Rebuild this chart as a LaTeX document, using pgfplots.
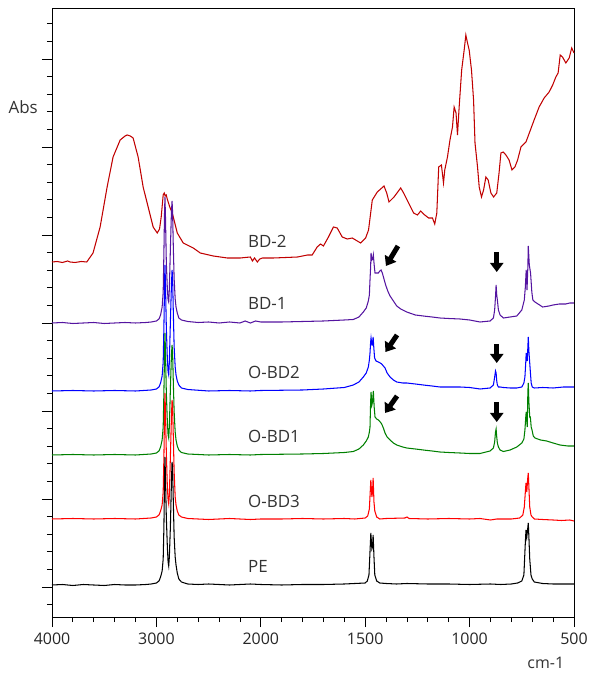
\documentclass[border=0pt]{standalone}
\usepackage{pgfplots}
\pgfplotsset{compat=1.18}
\usepackage{fontspec}
\setmainfont{Open Sans}
\usetikzlibrary{arrows.meta}
\definecolor{bdtwo}{RGB}{192,0,0}
\definecolor{bdone}{RGB}{84,20,160}
\definecolor{obdtwo}{RGB}{0,0,255}
\definecolor{obdone}{RGB}{0,128,0}
\definecolor{obdthree}{RGB}{255,0,0}
% wavenumber -> position (4000-2000 and 2000-500 drawn at different scales)
\def\wn{(\thisrowno{0}>1999.9?(4000-\thisrowno{0})/1000:2+(2000-\thisrowno{0})/500)}
\begin{document}
\begin{tikzpicture}
\begin{axis}[
  at={(0,0)}, anchor=south west,
  scale only axis, width=522bp, height=609bp,
  xmin=0, xmax=5, ymin=0, ymax=609,
  clip=false,
  axis line style={black, line width=0.8bp},
  xtick={0,1,2,3,4,5},
  xticklabels={4000,3000,2000,1500,1000,500},
  minor x tick num=4,
  ytick={30,118,206,294,382,470,558},
  yticklabels={},
  minor ytick={12.4,47.6,65.2,82.8,100.4,135.6,153.2,170.8,188.4,223.6,241.2,258.8,276.4,311.6,329.2,346.8,364.4,399.6,417.2,434.8,452.4,487.6,505.2,522.8,540.4,575.6,593.2},
  xtick pos=bottom, ytick pos=left,
  tick align=outside,
  major tick length=10bp, minor tick length=5bp,
  tick style={black, line width=0.8bp},
  xticklabel style={font=\fontsize{16}{19}\selectfont, text=black!85, yshift=-2bp},
  every axis plot/.append style={line width=1.05bp, mark=none},
]
% BD-2
\addplot[bdtwo] table[x expr=\wn, y index=1] {
4000 355
3950 355.5
3900 354.5
3850 356
3827 355
3780 354.5
3720 355.5
3667 355
3607 364
3539 390
3472 430
3415 460
3347 477
3300 481
3280 482
3250 481
3223 479
3175 460
3127 430
3079 410
3031 390
2992 384
2970 388
2954 400
2935 422
2925 424
2916 421
2906 422
2896 418
2872 410
2848 404
2800 384
2743 374
2647 369
2580 364
2455 361
2320 359
2196 359
2150 359.5
2100 360
2080 356
2060 359
2033 355
2010 358
1992 359
1940 359
1880 359.5
1824 360
1776 362
1754 362
1730 370
1714 373
1700 371
1676 380
1652 390
1634 389
1610 380
1586 378
1562 379
1538 376
1522 374
1498 379
1484 387
1466 417
1442 425
1410 431
1397 424
1386 415
1362 420
1330 429
1316 424
1292 414
1268 404
1250 402
1234 406
1215 402
1196 399
1178 399
1167 393
1157 404
1148 450
1135 452
1125 434
1119 447
1106 460
1094 477
1082 490
1074 510
1065 504
1058 482
1050 510
1038 547
1026 567
1018 582
1010 574
1002 567
991 547
981 517
974 474
962 450
954 430
943 420
933 427
922 440
911 437
898 424
885 420
870 424
859 444
850 464
839 465
826 462
811 457
797 447
783 450
770 457
754 470
730 475
714 484
691 497
667 510
643 519
619 525
602 532
587 540
576 544
566 562
555 560
539 554
523 559
511 569
502 565
500 564
};
% BD-1
\addplot[bdone] table[x expr=\wn, y index=1] {
4000 294
3900 294.5
3800 293.5
3700 294
3600 294.5
3500 293.5
3400 294
3300 294.5
3200 294
3100 294.5
3050 295
3000 296
2975 298
2960 302
2945 310
2935 325
2928 365
2922 405
2918 420
2913 400
2905 355
2895 328
2888 317
2882 315
2876 328
2866 368
2856 405
2850 416
2845 405
2838 370
2830 338
2820 318
2812 310
2800 304
2785 299
2760 297
2700 295.5
2600 294.5
2500 295
2400 294
2300 295
2200 294
2150 296
2100 294
2050 296
2000 295
1900 295
1800 295.5
1700 296
1600 297
1557 297.5
1530 300
1509 305
1495 309
1485 316
1480 322
1477 337
1474 350
1472 364
1468 357
1464 358
1461 362
1457 352
1453 344
1445 344
1437 344
1430 346
1424 347
1418 344
1410 338
1402 332
1392 326
1381 321
1365 316
1349 311
1330 308
1301 305
1260 302
1222 301
1180 300
1142 299
1100 298.5
1046 298
1000 297
950 295
902 296
886 299
880 307
876 320
873 332
870 322
867 317
862 307
854 302
838 299
806 300
774 301
750 307
738 317
733 330
729 347
725 327
721 350
719 371
714 352
708 344
702 325
697 317
687 315
650 310
620 311
600 312
570 313
540 313
520 314
500 314
};
% O-BD2
\addplot[obdtwo] table[x expr=\wn, y index=1] {
4000 226
3800 226.5
3600 226
3400 226.5
3200 226
3050 227
3000 228
2975 230
2960 234
2945 241
2935 255
2928 290
2922 333
2918 352
2913 333
2905 290
2895 258
2888 245
2882 242
2876 255
2866 295
2856 332
2850 347
2845 340
2838 305
2830 270
2820 250
2812 242
2800 236
2785 232
2760 229
2700 227.5
2500 226
2300 226.5
2100 226
2000 226.5
1800 227
1700 228
1600 229.5
1557 232
1530 235
1509 240
1495 244
1485 250
1480 257
1477 264
1474 275
1472 279
1468 272
1466 272
1462 280
1459 270
1455 259
1448 256
1437 255
1428 254
1421 253
1413 251
1405 249
1395 244
1381 240
1365 237
1349 235
1320 234
1301 234
1260 233
1222 232
1180 231
1142 230
1100 230
1046 230
1000 229.5
950 228
902 229
886 232
880 240
876 246
873 244
870 236
867 232
862 230
854 230
838 229.5
806 229
774 229
750 230
740 234
735 240
731 255
729 264
724 256
721 270
719 280
716 266
713 257
709 245
705 234
700 230
690 229
650 229.5
600 229
550 230
500 230
};
% O-BD1
\addplot[obdone] table[x expr=\wn, y index=1] {
4000 162
3800 162.5
3600 162
3400 162.5
3200 162
3050 163
3000 164
2975 166
2960 170
2945 177
2935 190
2928 225
2922 265
2918 284
2913 265
2905 225
2895 195
2888 182
2882 179
2876 190
2866 228
2856 262
2850 272
2845 265
2838 235
2830 205
2820 185
2812 177
2800 171
2785 167
2760 164.5
2700 163
2500 162
2300 162.5
2100 162
2000 162.5
1800 163
1700 163.5
1600 164.5
1557 165.5
1530 168
1509 172
1495 176
1485 180
1480 185
1477 190
1474 215
1472 225
1468 212
1465 215
1461 226
1457 210
1453 200
1445 198
1437 197
1428 195
1421 193
1413 189
1405 184
1395 180
1381 177
1365 174
1349 172
1320 170
1301 169
1260 168
1222 167
1180 166
1142 165
1100 164.5
1046 164
1000 163.5
950 163.5
902 166
886 169
880 175
876 185
873 188
870 180
867 174
862 170
854 167
838 165.5
806 167
774 170
750 174
740 178
735 187
731 200
729 205
724 190
721 225
719 234
716 215
712 200
709 200
705 190
701 187
695 181
687 179
660 177
631 176
600 174
567 172
530 171
500 171
};
% O-BD3
\addplot[obdthree] table[x expr=\wn, y index=1] {
4000 98
3800 98.5
3600 98
3400 98.5
3200 98
3050 99
3000 100
2975 102
2960 106
2945 112
2935 125
2928 160
2922 205
2918 224
2913 205
2905 165
2895 130
2888 117
2882 113
2876 122
2866 160
2856 200
2850 217
2845 212
2838 180
2830 145
2820 120
2812 112
2800 106
2785 102
2760 100
2700 98.5
2500 97.5
2300 98.5
2200 98
2100 97.5
2000 98
1900 98
1800 98.5
1700 98
1600 98.5
1550 98
1500 99
1488 101
1480 108
1476 125
1473 137
1468 120
1465 125
1462 139
1458 115
1454 106
1445 100
1430 98
1400 98.5
1310 99
1300 100
1290 98.5
1200 98
1100 98.5
1000 98
950 98.5
900 97
870 98
800 98
760 99
745 102
738 110
733 125
730 134
726 125
722 138
719 144
716 130
712 110
706 102
700 100
690 98
650 97.5
600 97
560 96.5
520 97
500 96
};
% PE
\addplot[black] table[x expr=\wn, y index=1] {
4000 32
3900 32.5
3800 31.5
3700 32.5
3600 32
3500 31.5
3400 32.5
3300 32
3200 32
3100 32.5
3050 33
3000 34
2975 36
2960 40
2945 46
2935 58
2928 90
2922 140
2918 160
2913 140
2905 100
2895 70
2888 55
2882 51
2876 60
2866 90
2856 135
2850 155
2845 150
2838 115
2830 80
2820 60
2812 52
2800 44
2785 38
2760 35
2700 33
2600 32.5
2500 33
2400 32.5
2300 32
2200 32.5
2100 33
2000 32.5
1900 32
1800 32.5
1700 32.5
1600 33
1550 33.5
1500 34
1490 36
1482 42
1476 70
1473 84
1468 68
1465 70
1462 82
1458 60
1454 42
1445 36
1430 34
1400 33.5
1350 33
1300 33.5
1200 33
1100 33
1000 32.5
900 33
850 32.5
800 33
770 34
750 36
740 42
734 70
730 87
726 80
722 88
719 94
716 80
712 58
706 42
700 38
690 35
650 33.5
600 33
550 33
500 33
};
% sample labels
\foreach \yy/\tt in {369/BD-2, 307/BD-1, 238/O-BD2, 174/O-BD1, 109/O-BD3, 44/PE}{
  \edef\tmp{\noexpand\node[anchor=base west, inner sep=0pt, font=\noexpand\fontsize{17}{20}\noexpand\selectfont, text=black!80] at (axis cs:1.877,\yy) {\tt};}\tmp
}
% arrows
\draw[-{Triangle[width=13bp,length=9bp]}, line width=5bp] (axis cs:3.314,371) -- (axis cs:3.199,351);
\draw[-{Triangle[width=13bp,length=9bp]}, line width=5bp] (axis cs:3.305,282) -- (axis cs:3.194,265);
\draw[-{Triangle[width=13bp,length=9bp]}, line width=5bp] (axis cs:3.305,221) -- (axis cs:3.190,204);
\draw[-{Triangle[width=13bp,length=9bp]}, line width=5bp] (axis cs:4.26,365) -- (axis cs:4.26,345);
\draw[-{Triangle[width=13bp,length=9bp]}, line width=5bp] (axis cs:4.26,273) -- (axis cs:4.26,254);
\draw[-{Triangle[width=13bp,length=9bp]}, line width=5bp] (axis cs:4.26,215) -- (axis cs:4.26,195);
% axis texts
\node[anchor=east, inner sep=0pt, font=\fontsize{17}{20}\selectfont, text=black!80] at (axis cs:0,510) [xshift=-14bp] {Abs};
\node[anchor=center, inner sep=0pt, font=\fontsize{16}{19}\selectfont, text=black!80] at (axis cs:4.73,-46) {cm-1};
\end{axis}
\pgfresetboundingbox
\path[use as bounding box] (-52bp,-57bp) rectangle (540bp,617bp);
\end{tikzpicture}
\end{document}
